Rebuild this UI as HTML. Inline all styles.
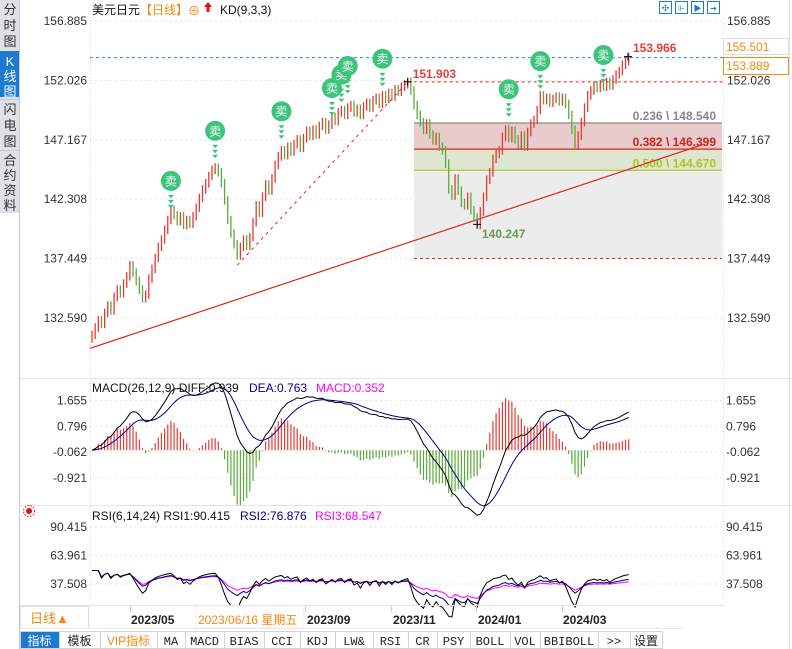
<!DOCTYPE html>
<html><head><meta charset="utf-8">
<style>
html,body{margin:0;padding:0;background:#fff;}
svg{display:block;font-family:"Liberation Sans","Noto Sans CJK SC",sans-serif;}
</style></head>
<body>
<svg id="c" width="792" height="649" viewBox="0 0 792 649" xmlns="http://www.w3.org/2000/svg">
<g>
<rect x="0" y="0" width="19" height="213" fill="#dfe0e8"/>
<line x1="19.5" y1="0" x2="19.5" y2="649" stroke="#c8c8d0"/>
<g><text x="10" y="14" font-size="13" text-anchor="middle" fill="#333">分</text><text x="10" y="30" font-size="13" text-anchor="middle" fill="#333">时</text><text x="10" y="46" font-size="13" text-anchor="middle" fill="#333">图</text></g>
<g><rect x="0" y="51" width="19" height="46" fill="#1c7ad0"/><text x="10" y="66" font-size="13" text-anchor="middle" fill="#fff">K</text><text x="10" y="81" font-size="13" text-anchor="middle" fill="#fff">线</text><text x="10" y="96" font-size="13" text-anchor="middle" fill="#fff">图</text></g>
<line x1="0" y1="99.5" x2="19" y2="99.5" stroke="#c8c8d0"/>
<g><text x="10" y="114" font-size="13" text-anchor="middle" fill="#333">闪</text><text x="10" y="130" font-size="13" text-anchor="middle" fill="#333">电</text><text x="10" y="146" font-size="13" text-anchor="middle" fill="#333">图</text></g>
<line x1="0" y1="150.5" x2="19" y2="150.5" stroke="#c8c8d0"/>
<g><text x="10" y="165" font-size="13" text-anchor="middle" fill="#333">合</text><text x="10" y="180" font-size="13" text-anchor="middle" fill="#333">约</text><text x="10" y="195" font-size="13" text-anchor="middle" fill="#333">资</text><text x="10" y="210" font-size="13" text-anchor="middle" fill="#333">料</text></g>
</g>
<line x1="90.5" y1="14" x2="90.5" y2="605" stroke="#d8dce6" stroke-dasharray="1,2"/>
<line x1="723.5" y1="14" x2="723.5" y2="605" stroke="#d8dce6" stroke-dasharray="1,2"/>
<line x1="20" y1="378.5" x2="792" y2="378.5" stroke="#e4e4e4"/>
<line x1="20" y1="505.5" x2="792" y2="505.5" stroke="#e4e4e4"/>
<line x1="789.5" y1="0" x2="789.5" y2="649" stroke="#e4e4e4"/>
<g>
<text x="92" y="14" font-size="12" fill="#111">美元日元</text>
<text x="140" y="14" font-size="12" fill="#f08a10">【日线】</text>
<text x="188" y="15" font-size="12" fill="#f08a10">⊕</text>
<path d="M208 2 L212 7 L209.5 7 L209.5 12 L206.5 12 L206.5 7 L204 7 Z" fill="#e01010"/>
<text x="220" y="14" font-size="12" fill="#111">KD(9,3,3)</text>
</g>
<g>
<rect x="659.5" y="1.5" width="12" height="12" fill="none" stroke="#1c7ad0"/><text x="665.5" y="11" font-size="9" text-anchor="middle" fill="#1c7ad0">✣</text>
<rect x="675.5" y="1.5" width="12" height="12" fill="none" stroke="#1c7ad0"/><text x="681.5" y="11" font-size="8" text-anchor="middle" fill="#1c7ad0">⊩</text>
<rect x="691.5" y="1.5" width="12" height="12" fill="none" stroke="#1c7ad0"/><text x="697.5" y="11" font-size="8" text-anchor="middle" fill="#1c7ad0">▶</text>
<rect x="707.5" y="1.5" width="12" height="12" fill="none" stroke="#1c7ad0"/><text x="713.5" y="11" font-size="8" text-anchor="middle" fill="#1c7ad0">➜</text>
</g>
<g id="main"></g>
<g>
<text x="92" y="392" font-size="12" fill="#111">MACD(26,12,9) DIFF:0.939</text>
<text x="249" y="392" font-size="12" fill="#000080">DEA:0.763</text>
<text x="316" y="392" font-size="12" fill="#ff00ff">MACD:0.352</text>
</g>
<g>
<circle cx="29" cy="511" r="3" fill="#e01010"/><circle cx="29" cy="511" r="5.5" fill="none" stroke="#e01010" stroke-dasharray="1.5,1.5"/>
<text x="92" y="520" font-size="12" fill="#111">RSI(6,14,24) RSI1:90.415</text>
<text x="240" y="520" font-size="12" fill="#000080">RSI2:76.876</text>
<text x="315" y="520" font-size="12" fill="#ff00ff">RSI3:68.547</text>
</g>
<g>
<line x1="20" y1="605.5" x2="723" y2="605.5" stroke="#e4e4e4"/>
<rect x="20.5" y="606.5" width="68" height="22" fill="#fff" stroke="#ddd"/>
<text x="30" y="623" font-size="13" fill="#f08a10">日线▲</text>
<rect x="196" y="606" width="108" height="22" fill="#fff" stroke="#eee"/>
<text x="131" y="624" font-size="12" fill="#222" font-weight="bold">2023/05</text>
<text x="198" y="624" font-size="12" fill="#f08a10">2023/06/16 星期五</text>
<text x="307" y="624" font-size="12" fill="#222" font-weight="bold">2023/09</text>
<text x="393" y="624" font-size="12" fill="#222" font-weight="bold">2023/11</text>
<text x="478" y="624" font-size="12" fill="#222" font-weight="bold">2024/01</text>
<text x="563" y="624" font-size="12" fill="#222" font-weight="bold">2024/03</text>
<line x1="130.5" y1="606" x2="130.5" y2="612" stroke="#ccc"/><line x1="305.5" y1="606" x2="305.5" y2="612" stroke="#ccc"/><line x1="391.5" y1="606" x2="391.5" y2="612" stroke="#ccc"/><line x1="476.5" y1="606" x2="476.5" y2="612" stroke="#ccc"/><line x1="562.5" y1="606" x2="562.5" y2="612" stroke="#ccc"/>
<line x1="20" y1="628.5" x2="683" y2="628.5" stroke="#e8e8e8"/>
</g>
<g id="tabs"></g>
</svg>
<script>
const NS='http://www.w3.org/2000/svg';
const closes=[131.2,131.8,132.4,132.1,133.0,133.6,133.2,134.3,134.9,134.6,
135.4,136.0,136.9,136.3,135.6,134.9,134.2,134.5,135.8,136.6,
137.5,138.4,139.0,139.8,140.6,141.4,141.0,140.5,140.9,140.2,
140.6,140.3,140.9,141.6,142.4,143.1,143.6,144.2,144.7,144.9,
144.5,143.6,142.2,140.6,139.5,138.6,137.7,138.4,139.0,138.5,
139.2,140.4,141.8,141.2,142.5,143.5,143.0,144.0,145.1,145.8,
146.3,145.9,146.6,146.2,146.8,147.2,146.5,147.3,147.9,147.5,
148.0,147.6,148.3,148.6,148.0,148.4,149.0,148.7,149.4,149.6,
149.2,149.8,150.0,149.4,149.7,149.2,149.9,150.2,149.8,150.4,
150.6,150.1,150.8,150.5,151.0,150.7,151.3,151.1,151.5,151.7,
151.9,151.2,150.0,149.2,148.6,148.0,148.5,147.6,147.1,147.4,
146.6,146.3,145.2,143.1,142.6,144.0,143.0,142.0,141.8,142.5,
141.4,140.8,140.2,141.3,142.5,143.9,144.5,145.6,146.0,146.3,
147.4,148.0,147.3,147.9,147.2,146.8,147.5,146.6,147.8,148.5,
148.8,149.6,150.8,150.4,150.6,150.2,150.5,150.7,150.3,150.6,
150.1,149.2,148.0,146.7,147.5,148.6,149.8,150.8,151.2,151.6,
151.4,151.7,151.5,151.9,151.6,152.1,152.5,152.8,153.3,153.6,153.889];
const priceTicks=['156.885','152.026','147.167','142.308','137.449','132.590'];
const macdTicks=['1.655','0.796','-0.062','-0.921'];
const rsiTicks=['90.415','63.961','37.508'];
const fibLevels=[148.540,146.399,144.670];
const fibLabels=['0.236 \\ 148.540','0.382 \\ 146.399','0.500 \\ 144.670'];
const sellIdx=[25,39,60,76,79,81,92,132,142,162];
const sellPrice=[143.8,147.9,149.5,151.4,152.5,153.2,153.8,151.3,153.6,154.1];
const x=i=>92+i*3.157;
const yP=p=>21+(156.885-p)*12.22;
const yM=v=>450.2-v*30.0;
const yR=v=>527+(90.415-v)*1.077;
const main=document.getElementById('main');
function mk(tag,attrs,parent){const e=document.createElementNS(NS,tag);for(const k in attrs)e.setAttribute(k,attrs[k]);(parent||main).appendChild(e);return e;}
function txt(s,attrs,parent){const e=mk('text',attrs,parent);e.textContent=s;return e;}
priceTicks.forEach(t=>{const y=yP(+t);
 const g=mk('line',{x1:90,y1:y,x2:723,y2:y,stroke:'#e6e6e6','stroke-dasharray':'2,3'});
 
 const l=txt(t,{x:87,y:y+4,'font-size':12,'text-anchor':'end',fill:'#333'});
 
 const r=txt(t,{x:727,y:y+4,'font-size':12,fill:'#333'});
 });
macdTicks.forEach(t=>{const y=yM(+t);
 mk('line',{x1:90,y1:y,x2:723,y2:y,stroke:'#e6e6e6','stroke-dasharray':'2,3'});
 const l=txt(t,{x:87,y:y+4,'font-size':12,'text-anchor':'end',fill:'#333'});
 
 const r=txt(t,{x:726,y:y+4,'font-size':12,fill:'#333'});
 });
rsiTicks.forEach(t=>{const y=yR(+t);
 mk('line',{x1:90,y1:y,x2:723,y2:y,stroke:'#e6e6e6','stroke-dasharray':'2,3'});
 const l=txt(t,{x:87,y:y+4,'font-size':12,'text-anchor':'end',fill:'#333'});
 
 const r=txt(t,{x:726,y:y+4,'font-size':12,fill:'#333'});
 });
const fx1=414,fx2=722;
const fibTop=yP(fibLevels[0]),fibMid=yP(fibLevels[1]),fibLo=yP(fibLevels[2]),fibBot=yP(137.449);
const fb=mk('g',{});


mk('rect',{x:fx1,y:fibTop,width:fx2-fx1,height:fibMid-fibTop,fill:'#e8cccc'},fb);
mk('rect',{x:fx1,y:fibMid,width:fx2-fx1,height:fibLo-fibMid,fill:'#dfe6cf'},fb);
mk('rect',{x:fx1,y:fibLo,width:fx2-fx1,height:fibBot-fibLo,fill:'#ececec'},fb);
mk('line',{x1:fx1,y1:fibTop,x2:fx2,y2:fibTop,stroke:'#888','stroke-width':1.2},fb);
mk('line',{x1:fx1,y1:fibMid,x2:fx2,y2:fibMid,stroke:'#e02020','stroke-width':1.2},fb);
mk('line',{x1:fx1,y1:fibLo,x2:fx2,y2:fibLo,stroke:'#a8c840','stroke-width':1.2},fb);
mk('line',{x1:fx1,y1:fibBot,x2:fx2,y2:fibBot,stroke:'#e02020','stroke-dasharray':'3,3'},fb);
const fibColors=['#888','#d02020','#a8c820'];
fibLevels.forEach((v,i)=>{const t=txt(fibLabels[i],{x:716,y:yP(v)-3,'font-size':12,'font-weight':'bold','text-anchor':'end',fill:fibColors[i]},fb);
 });
const cur=closes[closes.length-1];
const bl=mk('line',{x1:90,y1:yP(cur),x2:723,y2:yP(cur),stroke:'#1e88e5','stroke-dasharray':'3,3'});

const rl=mk('line',{x1:x(100),y1:yP(151.903),x2:723,y2:yP(151.903),stroke:'#e02020','stroke-dasharray':'3,3'});

const tl=mk('line',{x1:90,y1:yP(130.1),x2:704,y2:yP(146.8),stroke:'#e82020','stroke-width':1.2});

const tl2=mk('line',{x1:x(46),y1:yP(136.9),x2:x(100),y2:yP(151.9),stroke:'#e82020','stroke-dasharray':'3,4'});

closes.forEach((c,i)=>{const o=i?closes[i-1]:c-0.3;const up=c>=o;const col=up?'#e53935':'#5aa83a';
 const hi=Math.max(o,c)+0.35,lo=Math.min(o,c)-0.35;
 const g=mk('line',{x1:x(i),y1:yP(hi),x2:x(i),y2:yP(lo),stroke:col,'stroke-width':1.3});
 });
const a1=txt('151.903',{x:x(100)+5,y:yP(151.903)-4,'font-size':12,'font-weight':'bold',fill:'#e04040'});

const a2=txt('153.966',{x:633,y:52,'font-size':12,'font-weight':'bold',fill:'#e04040'});

const a3=txt('140.247',{x:482,y:238,'font-size':12,'font-weight':'bold',fill:'#6a9a5a'});

[[x(100),yP(151.903)],[x(122),yP(140.247)],[628,yP(153.966)]].forEach(p=>{
 mk('path',{d:`M${p[0]-4} ${p[1]}h8M${p[0]} ${p[1]-4}v8`,stroke:'#000','stroke-width':1});});
sellIdx.forEach((idx,k)=>{const cx=x(idx),cy=yP(sellPrice[k]);
 const g=mk('g',{});
 
 
 mk('circle',{cx:cx,cy:cy,r:10,fill:'#3cc47c'},g);
 txt('卖',{x:cx,y:cy+4.5,'font-size':12,'text-anchor':'middle',fill:'#fff'},g);
 for(let j=0;j<3;j++)mk('path',{d:`M${cx-3} ${cy+14+j*5}h6l-3 3.5z`,fill:'#3cc47c'},g);});
const pb1=mk('g',{});
mk('rect',{x:723.5,y:38.5,width:65,height:16,fill:'#fff',stroke:'#ddd'},pb1);
txt('155.501',{x:726,y:51,'font-size':12,fill:'#f08a10'},pb1);
const pb2=mk('g',{});
mk('rect',{x:723.5,y:57.5,width:65,height:17,fill:'#fff',stroke:'#f08a10'},pb2);
txt('153.889',{x:726,y:70,'font-size':12,fill:'#f08a10'},pb2);
let e12=closes[0],e26=closes[0],dea=0;const diff=[],deaA=[];
closes.forEach(c=>{e12=e12*11/13+c*2/13;e26=e26*25/27+c*2/27;const d=e12-e26;dea=dea*0.8+d*0.2;diff.push(d);deaA.push(dea);});
diff.forEach((d,i)=>{const h=2*(d-deaA[i]);
 const b=mk('line',{x1:x(i),y1:yM(0),x2:x(i),y2:yM(h),stroke:h>=0?'#e53935':'#5aa83a','stroke-width':1.2});
 });
function poly(arr,fy,col,name){const p=mk('polyline',{points:arr.map((v,i)=>x(i)+','+fy(v)).join(' '),fill:'none',stroke:col,'stroke-width':1});
 }
poly(diff,yM,'#000','macd-diff-line');poly(deaA,yM,'#000080','macd-dea-line');
function rsi(n){let up=0,dn=0;const out=[];closes.forEach((c,i)=>{const d=i?c-closes[i-1]:0;up=(Math.max(d,0)+(n-1)*up)/n;dn=(Math.abs(d)+(n-1)*dn)/n;out.push(dn+up===0?50:100*up/(up+dn));});return out;}
poly(rsi(24),yR,'#ff00ff','rsi3-line');poly(rsi(14),yR,'#000080','rsi2-line');poly(rsi(6),yR,'#000','rsi1-line');
const tabNames=['指标','模板','VIP指标','MA','MACD','BIAS','CCI','KDJ','LW&','RSI','CR','PSY','BOLL','VOL','BBIBOLL','>>','设置'];
const tabX=[20,59,100,157,185,224,264,300,335,373,408,437,470,510,540,598,630,662];
const tabsG=document.getElementById('tabs');
tabNames.forEach((n,i)=>{const g=mk('g',{},tabsG);
 
 
 const w=tabX[i+1]-tabX[i];
 mk('rect',{x:tabX[i]+0.5,y:631.5,width:w,height:17,fill:i===0?'#1c7ad0':'#fff',stroke:'#d4d4d4'},g);
 txt(n,{x:tabX[i]+w/2,y:645,'font-size':12,'text-anchor':'middle',fill:i===0?'#fff':(i===2?'#f08a10':'#222'),'font-family':/^[A-Z&>]+$/.test(n)?'Liberation Mono, monospace':'Liberation Sans, Noto Sans CJK SC, sans-serif'},g);});
</script>
</body></html>
